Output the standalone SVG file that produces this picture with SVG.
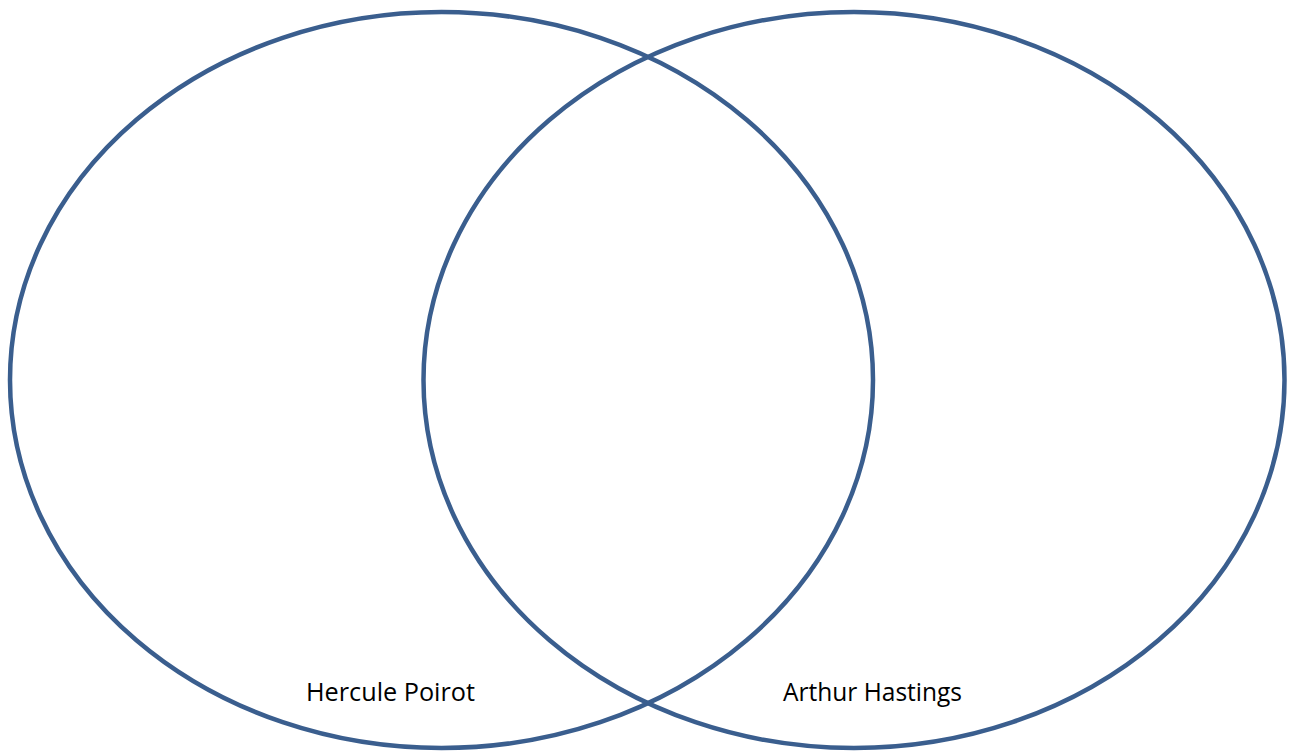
<svg xmlns="http://www.w3.org/2000/svg" width="1291" height="755" viewBox="0 0 1291 755">
<style>
.set{fill:none;stroke:#3A5E8E;stroke-width:4.5}
.lbl{font-family:"Open Sans","Liberation Sans",sans-serif;font-size:25px;fill:#000}
</style>
<rect width="1291" height="755" fill="#fff"/>
<g id="poirot">
<ellipse class="set" cx="441.5" cy="380" rx="431.5" ry="368"/>
<text class="lbl" x="306" y="701" textLength="169" lengthAdjust="spacingAndGlyphs">Hercule Poirot</text>
</g>
<g id="hastings">
<ellipse class="set" cx="854" cy="380" rx="430.5" ry="368"/>
<text class="lbl" x="783" y="701" textLength="179" lengthAdjust="spacingAndGlyphs">Arthur Hastings</text>
</g>
<g id="connectors"/>
</svg>
